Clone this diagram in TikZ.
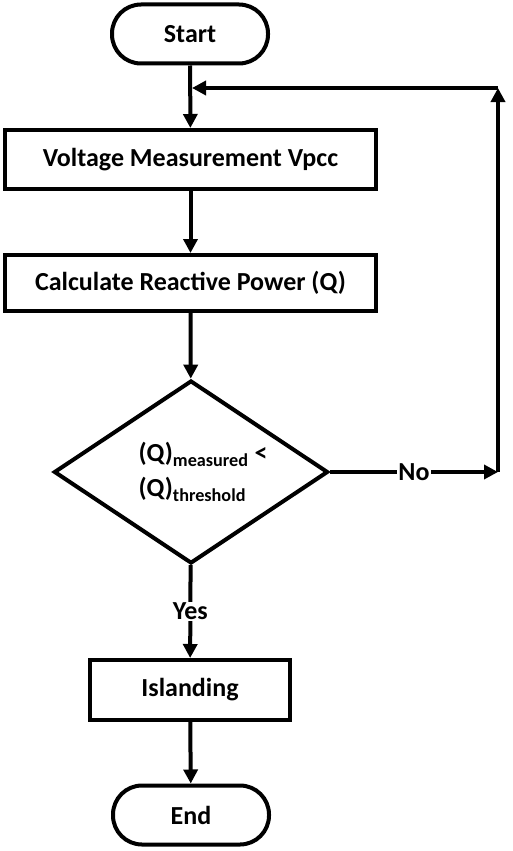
\documentclass[tikz,border=0pt]{standalone}
\usepackage{fontspec}
\setmainfont{Carlito}
\usetikzlibrary{shapes.geometric, arrows.meta, positioning}

\begin{document}
\begin{tikzpicture}[x=1pt, y=1pt,
        terminal/.style={rectangle, rounded corners=29pt, draw, line width=4pt, minimum width=156pt, minimum height=59pt, font=\fontsize{26}{31}\selectfont\bfseries},
        process/.style={rectangle, draw, line width=4pt, minimum height=59pt, font=\fontsize{26}{31}\selectfont\bfseries},
        decision/.style={diamond, aspect=1.5, draw, line width=4pt, minimum width=274pt, minimum height=183pt, inner sep=0pt, align=left, font=\fontsize{26}{35}\selectfont\bfseries},
        tag/.style={fill=white, inner sep=1pt, font=\fontsize{26}{31}\selectfont\bfseries},
        arrow/.style={-{Triangle[length=14pt, width=14pt]}, line width=4pt}
    ]
        \useasboundingbox (0,0) rectangle (512,-851);

        % Terminals
        \node[terminal] (start) at (190, -34) {Start};
        \node[terminal] (end) at (191, -815) {End};

        % Steps
        \node[process, minimum width=371pt] (volt) at (190.5, -159.5) {Voltage Measurement Vpcc};
        \node[process, minimum width=371pt, minimum height=56pt] (calc) at (190.5, -283) {Calculate Reactive Power (Q)};
        \node[process, minimum width=200pt, minimum height=60pt] (isl) at (190, -690) {Islanding};

        % Check
        \node[decision] (check) at (191, -472) {\hspace*{24pt}(Q)\textsubscript{measured} <\\\hspace*{24pt}(Q)\textsubscript{threshold}};

        % Loop corners
        \coordinate (join) at (192, -88);
        \coordinate (c1) at (498, -472);
        \coordinate (c2) at (498, -88);

        % Main flow
        \draw[arrow] (start) -- (volt);
        \draw[arrow] (volt) -- (calc);
        \draw[arrow] (calc) -- (check);
        \draw[arrow] (check) -- node[tag] {Yes} (isl);
        \draw[arrow] (isl) -- (end);

        % Back loop
        \draw[arrow] (check) -- node[tag] {No} (c1);
        \draw[arrow] (c1) -- (c2);
        \draw[arrow] (c2) -- (join);
    \end{tikzpicture}
\end{document}
